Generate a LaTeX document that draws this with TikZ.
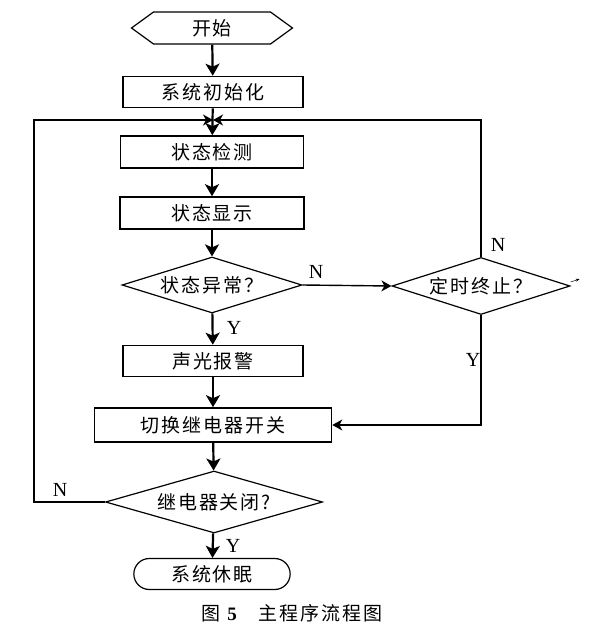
\documentclass[tikz,border=0pt]{standalone}
\usepackage{fontspec}
\setmainfont{Liberation Serif}
\newfontfamily\cjk[LetterSpace=10]{Noto Sans CJK SC}
\def\nfont{\fontsize{19}{22}\selectfont\cjk}
\usetikzlibrary{shapes, arrows.meta}
\tikzstyle{block}=[draw, rectangle, line width=1.6pt, minimum height=32pt, font=\nfont]
\tikzstyle{decision}=[draw, diamond, line width=1.2pt, inner sep=0pt, font=\nfont]
\tikzstyle{terminal}=[draw, line width=1.2pt, minimum height=32pt, font=\nfont]
\tikzstyle{yn}=[font=\fontsize{20}{22}\selectfont]
\tikzstyle{main}=[line width=2.2pt, -{Stealth[length=12pt,width=14pt,inset=3pt]}]
\tikzstyle{back}=[line width=1.4pt, -{Stealth[length=10pt,width=11pt,inset=3pt]}]

\begin{document}
\begin{tikzpicture}[x=1pt, y=-1pt, font=\fontsize{19}{22}\selectfont]
		\useasboundingbox (0,0) rectangle (599,635);
		\node[terminal, signal, signal to=west and east, signal pointer angle=72, minimum width=161pt] (S) at (212,28) {开始};
		\node[block, minimum width=180pt, minimum height=31pt] (I) at (213,92) {系统初始化};
		\coordinate (J) at (213,120);
		\node[block, minimum width=183pt] (D) at (212,152) {状态检测};
		\node[block, minimum width=184pt] (Sh) at (212,213) {状态显示};
		\node[decision, aspect=3.2, minimum width=180pt, minimum height=56pt] (A) at (212,285) {状态异常？};
		\node[decision, aspect=3.2, minimum width=178pt, minimum height=57pt] (T) at (481,286) {定时终止？};
		\node[block, minimum width=180pt, minimum height=31pt] (W) at (213,361) {声光报警};
		\node[block, minimum width=237pt, minimum height=34pt] (K) at (213,425) {切换继电器开关};
		\node[decision, aspect=3.5, minimum width=217pt, minimum height=62pt] (C) at (214,502) {继电器关闭?};
		\node[terminal, rounded rectangle, minimum width=163pt, minimum height=31pt] (Z) at (212,574) {系统休眠};
		%---------------------
		\draw[main] (S) -- (I);
		\draw[main] (I) -- (D);
		\draw[back] (T.north) |- (J);
		\draw[back] (C.west) -- ++(-71,0) |- (J);
		\draw[main] (D) -- (Sh);
		\draw[main] (Sh) -- (A);
		\draw[back] (A.east) -- (T.west);
		\draw[main] (A) -- (W);
		\draw[back] (T.south) |- (K.east);
		\draw[main] (W) -- (K);
		\draw[main] (K) -- (C);
		\draw[main] (C) -- (Z);
		\draw[line width=0.5pt, -{Stealth[length=4pt,width=3pt]}] ([yshift=4pt]T.east) -- ++(9,-3);
		%---------------------
		\node[yn] (nA) at (316,272) {N};
		\node[yn] (yA) at (234,328) {Y};
		\node[yn] (nT) at (498,245) {N};
		\node[yn] (yT) at (473,360) {Y};
		\node[yn] (nC) at (60,490) {N};
		\node[yn] (yC) at (233,546) {Y};
		\node (cap) at (292,613) {{\cjk 图}\hspace{5pt}\textbf{5}\hspace{22pt}{\cjk 主程序流程图}};
	\end{tikzpicture}
\end{document}
